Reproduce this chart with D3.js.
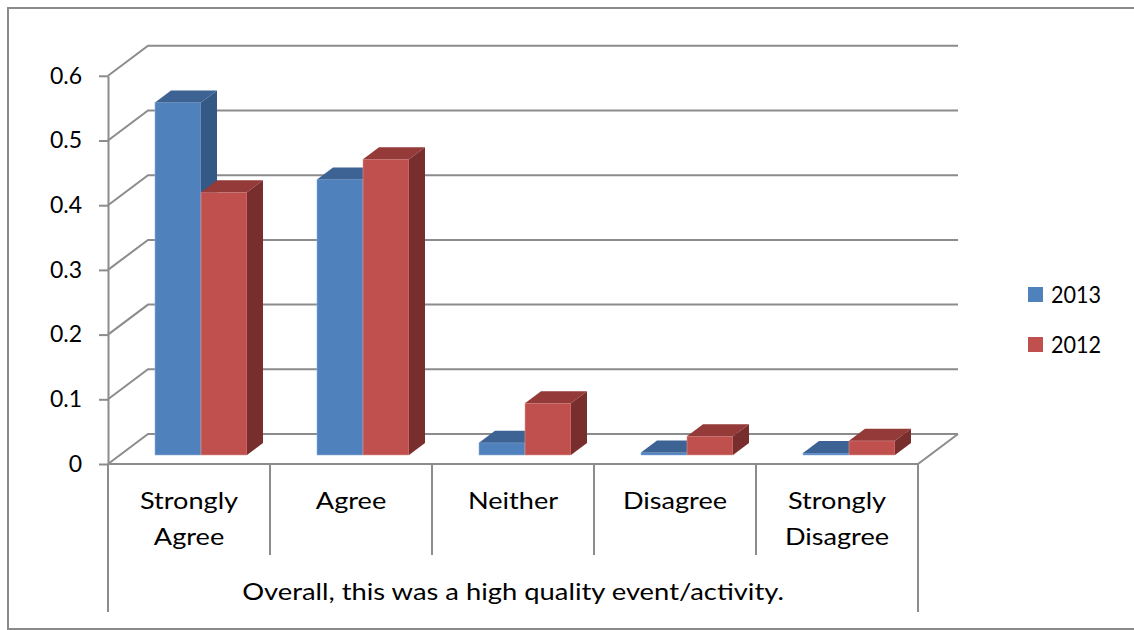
<!DOCTYPE html>
<html>
<head>
<meta charset="utf-8">
<script src="https://cdn.jsdelivr.net/npm/d3@7"></script>
<style>
  html, body { margin: 0; padding: 0; background: #fff; }
  svg { display: block; }
  text { font-family: Lato, "Open Sans", sans-serif; fill: #000; }
</style>
</head>
<body>
<svg id="chart" width="1134" height="630"></svg>
<script>
// Survey responses, share of respondents per answer
const categories = ["Strongly Agree", "Agree", "Neither", "Disagree", "Strongly Disagree"];
const series = ["2013", "2012"];
const values2013 = [0.545, 0.426, 0.019, 0.004, 0.003];
const values2012 = [0.406, 0.457, 0.080, 0.029, 0.022];
const yTicks = [0, 0.1, 0.2, 0.3, 0.4, 0.5, 0.6];
const yTickLabels = ["0", "0.1", "0.2", "0.3", "0.4", "0.5", "0.6"];
const axisTitle = "Overall, this was a high quality event/activity.";

const seriesValues = { "2013": values2013, "2012": values2012 };
const faceColors = {
  "2013": { front: "#4F81BD", top: "#3C6393", side: "#345984", edge: "#8FB2DE" },
  "2012": { front: "#C0504D", top: "#943A38", side: "#782E2C", edge: "#E09A98" }
};

// Oblique 3D frame: front plane plus a receding depth offset
const svg = d3.select("#chart");
const left = 108, right = 918, floorY = 464, topY = 75.8;
const DX = 40, DY = -30;
const gridColor = "#8C8C8C";

const x = d3.scaleBand().domain(categories).range([left, right]).padding(0);
const inner = d3.scaleBand().domain(series).range([0, 92]).padding(0);
const y = d3.scaleLinear().domain([0, 0.6]).range([floorY, topY]);

// Project (x on front plane, value, depth 0..1) to the screen
const P = (px, v, z) => [px + z * DX, y(v) + z * DY];
const poly = pts => "M" + pts.map(p => p.join(",")).join("L") + "Z";

// Widen or narrow a text run horizontally by a factor
function stretch(sel, k) {
  sel.each(function () {
    const len = this.getComputedTextLength();
    d3.select(this).attr("textLength", len * k).attr("lengthAdjust", "spacingAndGlyphs");
  });
}

// Outer frame (right edge falls just outside the canvas)
svg.append("path")
  .attr("d", "M1136,8 L8,8 L8,629 L1136,629")
  .attr("fill", "none").attr("stroke", "#8A8A8A").attr("stroke-width", 2);

// Side wall and back wall gridlines
const grid = svg.append("g").attr("fill", "none").attr("stroke", gridColor).attr("stroke-width", 2);
yTicks.forEach(v => {
  const a = P(left, v, 0), b = P(left, v, 1), c = P(right, v, 1);
  grid.append("path").attr("d", `M${a}L${b}L${c}`);
});
// Floor edges
grid.append("path").attr("d", `M${P(left, 0, 0)}L${P(right, 0, 0)}L${P(right, 0, 1)}`);

// Value axis
const yAxis = d3.axisLeft(y)
  .tickValues(yTicks)
  .tickFormat((d, i) => yTickLabels[i])
  .tickSize(9)
  .tickSizeOuter(0)
  .tickPadding(17);
const ya = svg.append("g").attr("transform", `translate(${left},0)`).call(yAxis);
ya.selectAll("path, line").attr("stroke", gridColor).attr("stroke-width", 2);
ya.selectAll("text").style("font-size", "23px").style("font-family", "Lato, sans-serif").attr("fill", "#000");

// Category table: dividers under the floor
const dividers = svg.append("g").attr("stroke", gridColor).attr("stroke-width", 2);
categories.forEach((c, i) => {
  const xv = x(c);
  dividers.append("line").attr("x1", xv).attr("x2", xv)
    .attr("y1", floorY).attr("y2", i === 0 ? 612 : 555);
});
dividers.append("line").attr("x1", right).attr("x2", right).attr("y1", floorY).attr("y2", 612);

// Category labels, one word per line
const labels = svg.append("g").attr("text-anchor", "middle").style("font-size", "24px");
categories.forEach(c => {
  const cx = x(c) + x.bandwidth() / 2;
  c.split(" ").forEach((w, k) => {
    labels.append("text").attr("x", cx).attr("y", 509 + k * 36).text(w);
  });
});
stretch(labels.selectAll("text"), 1.13);

// Axis title spanning the table
const title = svg.append("text")
  .attr("x", (left + right) / 2).attr("y", 600)
  .attr("text-anchor", "middle").style("font-size", "24px")
  .text(axisTitle);
stretch(title, 1.14);

// 3D columns: front, top and right side faces
const zf = 0.3, zb = 0.7;
const bars = svg.append("g");
categories.forEach((c, ci) => {
  series.forEach(s => {
    const v = seriesValues[s][ci];
    const x0 = x(c) + x.bandwidth() / 2 - inner.range()[1] / 2 + inner(s);
    const x1 = x0 + inner.bandwidth();
    const col = faceColors[s];
    const g = bars.append("g");
    g.append("path").attr("d", poly([P(x0, 0, zf), P(x1, 0, zf), P(x1, v, zf), P(x0, v, zf)]))
      .attr("fill", col.front).attr("stroke", col.edge).attr("stroke-width", 0.8).attr("stroke-opacity", 0.7);
    g.append("path").attr("d", poly([P(x0, v, zf), P(x1, v, zf), P(x1, v, zb), P(x0, v, zb)]))
      .attr("fill", col.top);
    g.append("path").attr("d", poly([P(x1, 0, zf), P(x1, 0, zb), P(x1, v, zb), P(x1, v, zf)]))
      .attr("fill", col.side);
  });
});

// Legend
const legend = svg.append("g");
series.forEach((s, i) => {
  const ly = 287 + i * 50;
  legend.append("rect").attr("x", 1028).attr("y", ly).attr("width", 15).attr("height", 15)
    .attr("fill", faceColors[s].front);
  legend.append("text").attr("x", 1051).attr("y", ly + 16).style("font-size", "24px").text(s);
});
stretch(legend.selectAll("text"), 0.9);
</script>
</body>
</html>
